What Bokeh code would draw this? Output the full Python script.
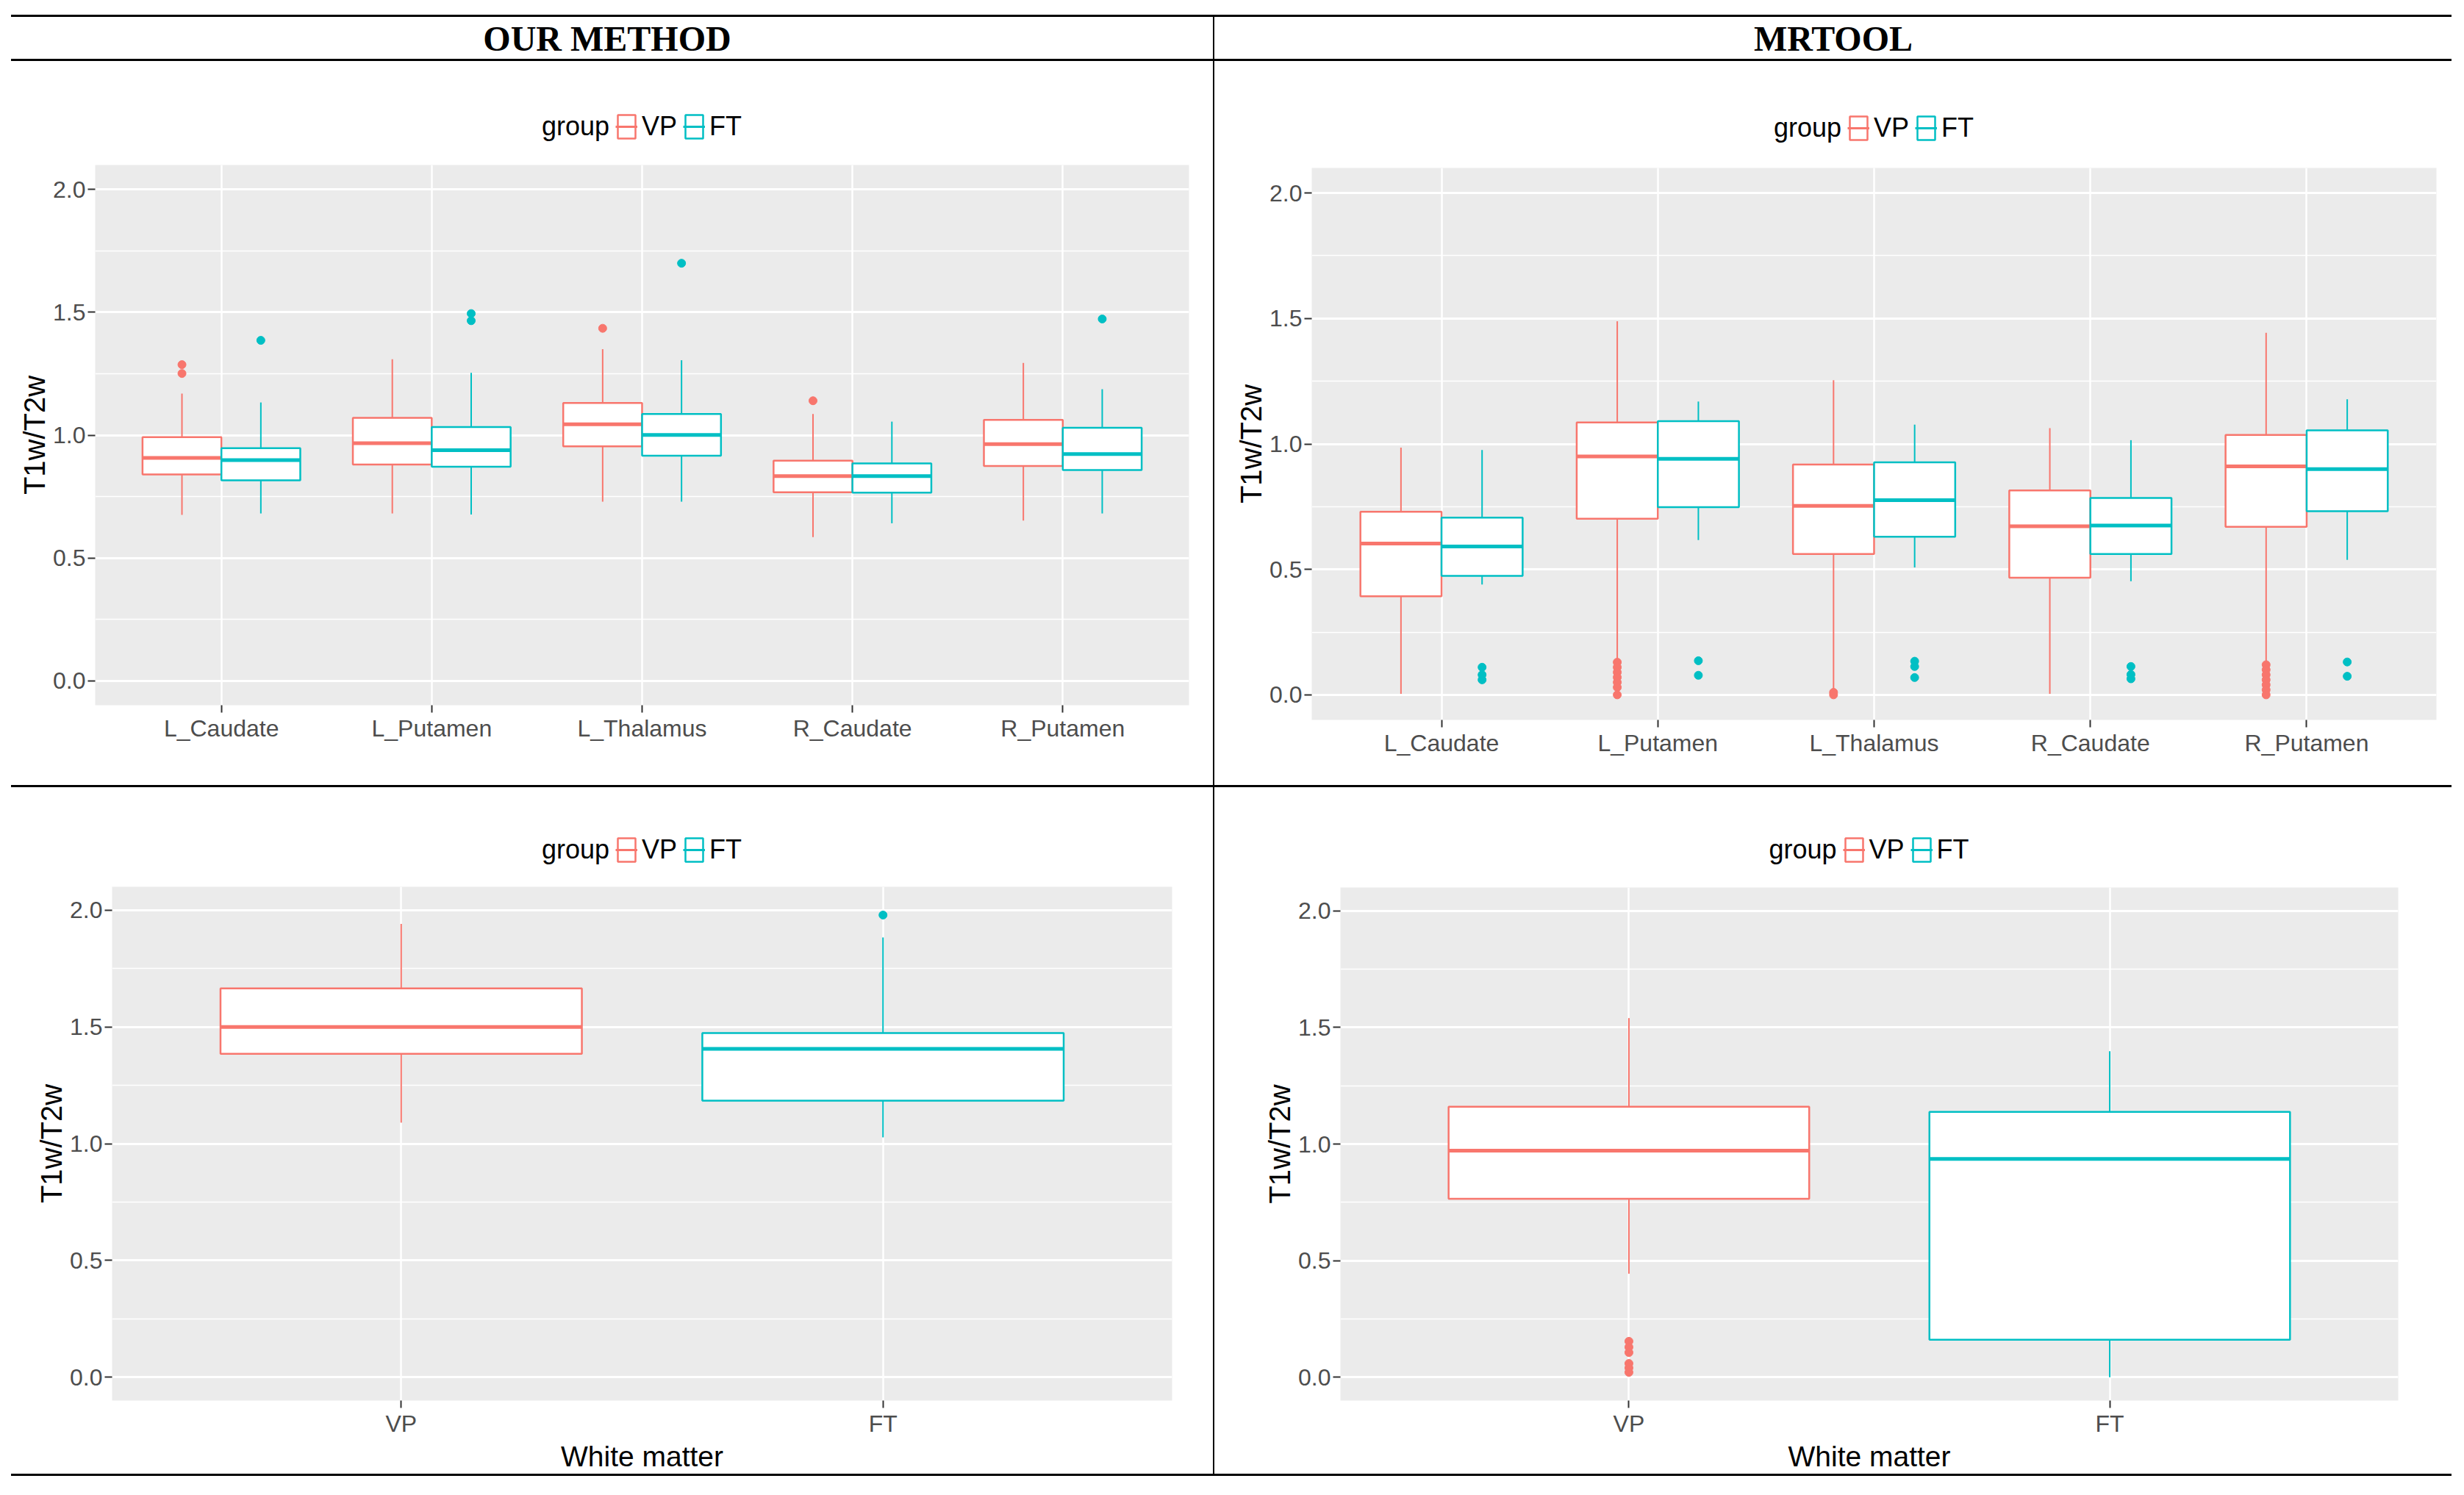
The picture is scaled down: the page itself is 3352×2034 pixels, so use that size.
from bokeh.plotting import figure
from bokeh.models import (ColumnDataSource, FactorRange, Range1d, FixedTicker,
                          PrintfTickFormatter, Legend, LegendItem, Div, Spacer)
from bokeh.transform import dodge
from bokeh.layouts import row, column
from bokeh.core.properties import value
from bokeh.embed import file_html
from bokeh.resources import INLINE

# ---------------- data ----------------
regions = ["L_Caudate", "L_Putamen", "L_Thalamus", "R_Caudate", "R_Putamen"]
wm_groups = ["VP", "FT"]
y_ticks = [0.0, 0.5, 1.0, 1.5, 2.0]
y_minor = [0.25, 0.75, 1.25, 1.75]

# OUR METHOD - subcortical regions
ours_vp_low = [0.675, 0.681, 0.729, 0.585, 0.652]
ours_vp_q1 = [0.840, 0.880, 0.954, 0.767, 0.874]
ours_vp_med = [0.907, 0.967, 1.044, 0.833, 0.963]
ours_vp_q3 = [0.992, 1.070, 1.131, 0.896, 1.062]
ours_vp_high = [1.169, 1.309, 1.350, 1.086, 1.294]
ours_vp_out = [[1.287, 1.251], [], [1.435], [1.140], []]

ours_ft_low = [0.681, 0.677, 0.729, 0.641, 0.681]
ours_ft_q1 = [0.816, 0.871, 0.916, 0.766, 0.858]
ours_ft_med = [0.898, 0.939, 1.001, 0.833, 0.923]
ours_ft_q3 = [0.947, 1.033, 1.086, 0.885, 1.030]
ours_ft_high = [1.133, 1.254, 1.305, 1.055, 1.187]
ours_ft_out = [[1.386], [1.495, 1.466], [1.700], [], [1.473]]

# MRTOOL - subcortical regions
mr_vp_low = [0.004, 0.140, 0.016, 0.004, 0.130]
mr_vp_q1 = [0.393, 0.702, 0.561, 0.467, 0.670]
mr_vp_med = [0.603, 0.950, 0.753, 0.672, 0.911]
mr_vp_q3 = [0.730, 1.086, 0.918, 0.815, 1.036]
mr_vp_high = [0.985, 1.489, 1.254, 1.063, 1.443]
mr_vp_out = [[], [0.13, 0.11, 0.09, 0.07, 0.05, 0.03, 0.0], [0.01, 0.0], [],
             [0.12, 0.10, 0.08, 0.06, 0.04, 0.02, 0.0]]

mr_ft_low = [0.440, 0.617, 0.508, 0.453, 0.538]
mr_ft_q1 = [0.474, 0.748, 0.630, 0.561, 0.732]
mr_ft_med = [0.591, 0.941, 0.776, 0.675, 0.900]
mr_ft_q3 = [0.706, 1.091, 0.927, 0.785, 1.054]
mr_ft_high = [0.976, 1.169, 1.077, 1.015, 1.178]
mr_ft_out = [[0.11, 0.08, 0.06], [0.136, 0.078], [0.134, 0.113, 0.069],
             [0.113, 0.081, 0.064], [0.131, 0.074]]

# OUR METHOD - white matter
ours_wm_low = [1.090, 1.027]
ours_wm_q1 = [1.385, 1.184]
ours_wm_med = [1.500, 1.406]
ours_wm_q3 = [1.665, 1.474]
ours_wm_high = [1.941, 1.883]
ours_wm_out = [[], [1.979]]

# MRTOOL - white matter
mr_wm_low = [0.444, 0.000]
mr_wm_q1 = [0.765, 0.161]
mr_wm_med = [0.972, 0.936]
mr_wm_q3 = [1.160, 1.138]
mr_wm_high = [1.540, 1.398]
mr_wm_out = [[0.154, 0.129, 0.106, 0.059, 0.040, 0.021], []]

# ---------------- style ----------------
VP_COLOR = "#F8766D"
FT_COLOR = "#00BFC4"
FONT = "Liberation Sans"
LEFT_PAD = 15
W_LEFT = 1635
W_RIGHT = 1683
W_INNER = W_LEFT + 2 + W_RIGHT
H_ROW1 = 985
H_ROW2 = 934
LEG_H1 = 130
LEG_H2 = 125
GLYPH_W = 30
LABEL_STANDOFF = 6
LEG_SHIFT = 172   # legend left = frame centre - LEG_SHIFT (visible part centred)


def add_box_series(p, cats, low, q1, med, q3, high, outs, color, offset, width):
    xr = p.x_range
    src = ColumnDataSource(dict(x=cats, low=low, q1=q1, med=med, q3=q3, high=high))
    xc = dodge("x", offset, range=xr)
    p.segment(x0=xc, x1=xc, y0="q3", y1="high", source=src,
              line_color=color, line_width=2)
    p.segment(x0=xc, x1=xc, y0="low", y1="q1", source=src,
              line_color=color, line_width=2)
    p.vbar(x=xc, width=width, bottom="q1", top="q3", source=src,
           fill_color="white", line_color=color, line_width=2.5)
    p.segment(x0=dodge("x", offset - width / 2, range=xr),
              x1=dodge("x", offset + width / 2, range=xr),
              y0="med", y1="med", source=src,
              line_color=color, line_width=5)
    ox = [c for c, o in zip(cats, outs) for _ in o]
    oy = [v for o in outs for v in o]
    osrc = ColumnDataSource(dict(x=ox, y=oy))
    p.scatter(x=xc, y="y", source=osrc, size=11, fill_color=color,
              line_color=color)


def make_panel(factors, series, width, height, borders, xlabel=None):
    l, r, t, b = borders
    p = figure(width=width, height=height,
               x_range=FactorRange(factors=factors, range_padding=0.1,
                                   range_padding_units="absolute"),
               y_range=Range1d(-0.1, 2.1),
               output_backend="svg", toolbar_location=None,
               min_border_left=l, min_border_right=r,
               min_border_top=t, min_border_bottom=b,
               background_fill_color="#EBEBEB", border_fill_color="white",
               outline_line_color=None)
    ticker = FixedTicker(ticks=y_ticks, minor_ticks=y_minor)
    p.yaxis.ticker = ticker
    p.ygrid.ticker = ticker
    p.yaxis.formatter = PrintfTickFormatter(format="%.1f")
    p.xgrid.grid_line_color = "white"
    p.xgrid.grid_line_width = 2.5
    p.ygrid.grid_line_color = "white"
    p.ygrid.grid_line_width = 3
    p.ygrid.minor_grid_line_color = "white"
    p.ygrid.minor_grid_line_width = 1.5
    for ax in (p.xaxis[0], p.yaxis[0]):
        ax.axis_line_color = None
        ax.major_tick_line_color = "#333333"
        ax.major_tick_line_width = 2
        ax.major_tick_out = 10
        ax.major_tick_in = 0
        ax.minor_tick_line_color = None
        ax.major_label_text_font = FONT
        ax.major_label_text_font_size = "32px"
        ax.major_label_text_color = "#4D4D4D"
        ax.major_label_standoff = 3
        ax.axis_label_text_font = FONT
        ax.axis_label_text_font_style = "normal"
        ax.axis_label_text_color = "black"
    p.yaxis.axis_label = "T1w/T2w"
    p.yaxis.axis_label_text_font_size = "40px"
    p.yaxis.axis_label_standoff = 0
    if xlabel:
        p.xaxis.axis_label = xlabel
        p.xaxis.axis_label_text_font_size = "39px"
        p.xaxis.axis_label_standoff = 2

    for name, cats, stats, color, offset, w in series:
        add_box_series(p, cats, *stats, color, offset, w)
    return p


def legend_fig(series, width, height, l, r, margin):
    lf = figure(width=width, height=height, x_range=Range1d(0, 1),
                y_range=Range1d(-2, -1), output_backend="svg",
                toolbar_location=None, x_axis_location=None,
                y_axis_location=None, min_border_left=l,
                min_border_right=r, min_border_top=0, min_border_bottom=0,
                outline_line_color=None, background_fill_color="white",
                border_fill_color="white")
    lf.grid.visible = False
    # legend keys: hidden renderers built from each series' first box
    dummy = lf.scatter(x=[0.5], y=[series[0][2][2][0]], alpha=0, visible=False)
    items = [LegendItem(label=value("group"), renderers=[dummy])]
    for name, cats, stats, color, offset, w in series:
        low, q1, med, q3, high, outs = stats
        bx = lf.vbar(x=[0.5], width=0.5, bottom=q1[:1], top=q3[:1],
                     fill_color="white", line_color=color, line_width=2.5,
                     visible=False)
        md = lf.segment(x0=[0.25], x1=[0.75], y0=med[:1], y1=med[:1],
                        line_color=color, line_width=3, visible=False)
        items.append(LegendItem(label=value(name), renderers=[bx, md]))
    frame_w = width - l - r
    legend = Legend(items=items, orientation="horizontal",
                    location=(frame_w / 2 - LEG_SHIFT, margin),
                    label_text_font=FONT, label_text_font_size="36px",
                    label_text_color="black", glyph_width=GLYPH_W,
                    glyph_height=40, label_standoff=LABEL_STANDOFF,
                    spacing=8, padding=0, margin=0,
                    border_line_color=None, background_fill_alpha=0)
    lf.add_layout(legend)
    return lf


def panel_block(factors, series, width, height, leg_h, leg_margin, borders,
                xlabel=None):
    l, r, t, b = borders
    lf = legend_fig(series, width, leg_h, l, r, leg_margin)
    p = make_panel(factors, series, width, height - leg_h,
                   (l, r, t - leg_h, b), xlabel)
    return column(lf, p)


b1 = panel_block(regions, [
    ("VP", regions, (ours_vp_low, ours_vp_q1, ours_vp_med, ours_vp_q3, ours_vp_high, ours_vp_out), VP_COLOR, -0.1875, 0.375),
    ("FT", regions, (ours_ft_low, ours_ft_q1, ours_ft_med, ours_ft_q3, ours_ft_high, ours_ft_out), FT_COLOR, 0.1875, 0.375),
], W_LEFT, H_ROW1, LEG_H1, 20, (114, 33, 141, 109))

b2 = panel_block(regions, [
    ("VP", regions, (mr_vp_low, mr_vp_q1, mr_vp_med, mr_vp_q3, mr_vp_high, mr_vp_out), VP_COLOR, -0.1875, 0.375),
    ("FT", regions, (mr_ft_low, mr_ft_q1, mr_ft_med, mr_ft_q3, mr_ft_high, mr_ft_out), FT_COLOR, 0.1875, 0.375),
], W_RIGHT, H_ROW1, LEG_H1, 18, (132, 21, 145, 89))


def wm_stats(low, q1, med, q3, high, out, i):
    return ([low[i]], [q1[i]], [med[i]], [q3[i]], [high[i]], [out[i]])


b3 = panel_block(wm_groups, [
    ("VP", [wm_groups[0]], wm_stats(ours_wm_low, ours_wm_q1, ours_wm_med, ours_wm_q3, ours_wm_high, ours_wm_out, 0), VP_COLOR, 0.0, 0.75),
    ("FT", [wm_groups[1]], wm_stats(ours_wm_low, ours_wm_q1, ours_wm_med, ours_wm_q3, ours_wm_high, ours_wm_out, 1), FT_COLOR, 0.0, 0.75),
], W_LEFT, H_ROW2, LEG_H2, 19, (137, 56, 135, 86), xlabel="White matter")

b4 = panel_block(wm_groups, [
    ("VP", [wm_groups[0]], wm_stats(mr_wm_low, mr_wm_q1, mr_wm_med, mr_wm_q3, mr_wm_high, mr_wm_out, 0), VP_COLOR, 0.0, 0.75),
    ("FT", [wm_groups[1]], wm_stats(mr_wm_low, mr_wm_q1, mr_wm_med, mr_wm_q3, mr_wm_high, mr_wm_out, 1), FT_COLOR, 0.0, 0.75),
], W_RIGHT, H_ROW2, LEG_H2, 19, (171, 73, 136, 89), xlabel="White matter")


def header(text, width, right_border=0):
    h = figure(width=width, height=57, x_range=Range1d(0, 1), y_range=Range1d(0, 1),
               output_backend="svg", toolbar_location=None,
               x_axis_location=None, y_axis_location=None,
               min_border=0, min_border_right=right_border,
               outline_line_color=None)
    h.grid.visible = False
    h.text(x=[0.5], y=[0.5], text=[text], text_align="center",
           text_baseline="middle", text_font=value("Liberation Serif"),
           text_font_style="bold", text_font_size="48px", text_color="black")
    return h


def hline():
    return Div(text="", width=W_INNER, height=3, margin=0,
               styles={"background-color": "black"})


def vline(h):
    return Div(text="", width=2, height=h, margin=0,
               styles={"background-color": "black"})


inner = column(
    Spacer(width=W_INNER, height=20, margin=0),
    hline(),
    row(header("OUR METHOD", W_LEFT, 14), vline(57), header("MRTOOL", W_RIGHT)),
    hline(),
    row(b1, vline(H_ROW1), b2),
    hline(),
    row(b3, vline(H_ROW2), b4),
    hline(),
)
layout = row(Spacer(width=LEFT_PAD, height=10, margin=0), inner)

open("out.html", "w").write(file_html(layout, INLINE, "T1w/T2w boxplots"))
